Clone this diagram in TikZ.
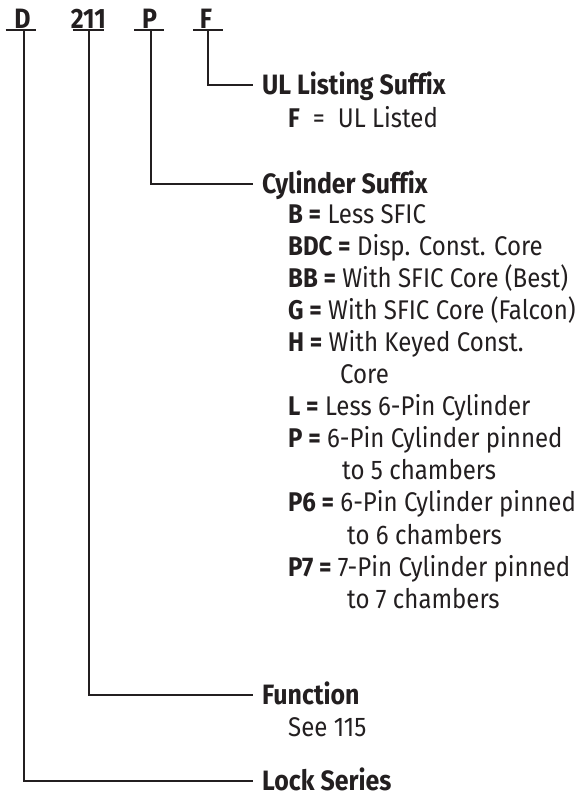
\documentclass[tikz,border=0pt]{standalone}
\usepackage{fontspec}
\setmainfont[FakeStretch=0.89,Ligatures=NoCommon]{Fira Sans}
\definecolor{ink}{HTML}{231F20}
\begin{document}
\begin{tikzpicture}[x=1pt,y=-1pt,
  lbl/.style={font=\fontsize{28}{32}\selectfont\bfseries, text=ink, inner sep=0pt, anchor=base},
  head/.style={font=\fontsize{28}{32}\selectfont\bfseries, text=ink, inner sep=0pt, anchor=base west, text height=19pt, text depth=0pt},
  item/.style={font=\fontsize{27}{32}\selectfont, text=ink, inner sep=0pt, anchor=base west},
  conn/.style={draw=ink, line width=2pt},
  uline/.style={draw=ink, line width=2pt}]
\useasboundingbox (0,0) rectangle (581,798);

% code letters
\node[lbl] (lD) at (22.5,28) {D};
\node[lbl] (l211) at (88.3,28) {211};
\node[lbl] (lP) at (149.5,28) {P};
\node[lbl] (lF) at (206,28) {F};

% underlines
\coordinate (uDl) at (5.7,29.5);  \coordinate (uDr) at (36,29.5);
\coordinate (u2l) at (72.7,29.5); \coordinate (u2r) at (104,29.5);
\coordinate (uPl) at (134,29.5);  \coordinate (uPr) at (164,29.5);
\coordinate (uFl) at (193,29.5);  \coordinate (uFr) at (223,29.5);
\draw[uline] (uDl) -- (uDr);
\draw[uline] (u2l) -- (u2r);
\draw[uline] (uPl) -- (uPr);
\draw[uline] (uFl) -- (uFr);
\coordinate (uD) at (23.5,29.5);
\coordinate (u2) at (89,29.5);
\coordinate (uP) at (150.5,29.5);
\coordinate (uF) at (208,29.5);

% headings
\node[head] (ul) at (262,94.5) {UL Listing Suffix};
\node[head] (cyl) at (262,193.5) {Cylinder Suffix};
\node[head] (fun) at (262,704.5) {Function};
\node[head] (lock) at (262,790.5) {Lock Series};

% items
\node[item] (iF) at (288,127) {\textbf{F}\hspace{13pt}=\hspace{13pt}UL Listed};
\node[item] (iB) at (288,223) {\textbf{B =} Less SFIC};
\node[item] (iBDC) at (288,255.1) {\textbf{BDC =} Disp. Const. Core};
\node[item] (iBB) at (288,287.2) {\textbf{BB =} With SFIC Core (Best)};
\node[item] (iG) at (288,319.3) {\textbf{G =} With SFIC Core (Falcon)};
\node[item] (iH) at (288,351.4) {\textbf{H =} With Keyed Const.};
\node[item] (iH2) at (340,383.5) {Core};
\node[item] (iL) at (288,415.6) {\textbf{L =} Less 6-Pin Cylinder};
\node[item] (iP) at (288,447.7) {\textbf{P =} 6-Pin Cylinder pinned};
\node[item] (iP2) at (342,479.8) {to 5 chambers};
\node[item] (iP6) at (288,511.9) {\textbf{P6 =} 6-Pin Cylinder pinned};
\node[item] (iP62) at (347,544) {to 6 chambers};
\node[item] (iP7) at (288,576.1) {\textbf{P7 =} 7-Pin Cylinder pinned};
\node[item] (iP72) at (347,608.2) {to 7 chambers};
\node[item] (iFun) at (288,736.5) {See 115};

% connectors
\draw[conn] (uF) |- ([xshift=-9pt]ul.west);
\draw[conn] (uP) |- ([xshift=-9pt]cyl.west);
\draw[conn] (u2) |- ([xshift=-9pt]fun.west);
\draw[conn] (uD) |- ([xshift=-9pt]lock.west);
\end{tikzpicture}
\end{document}
